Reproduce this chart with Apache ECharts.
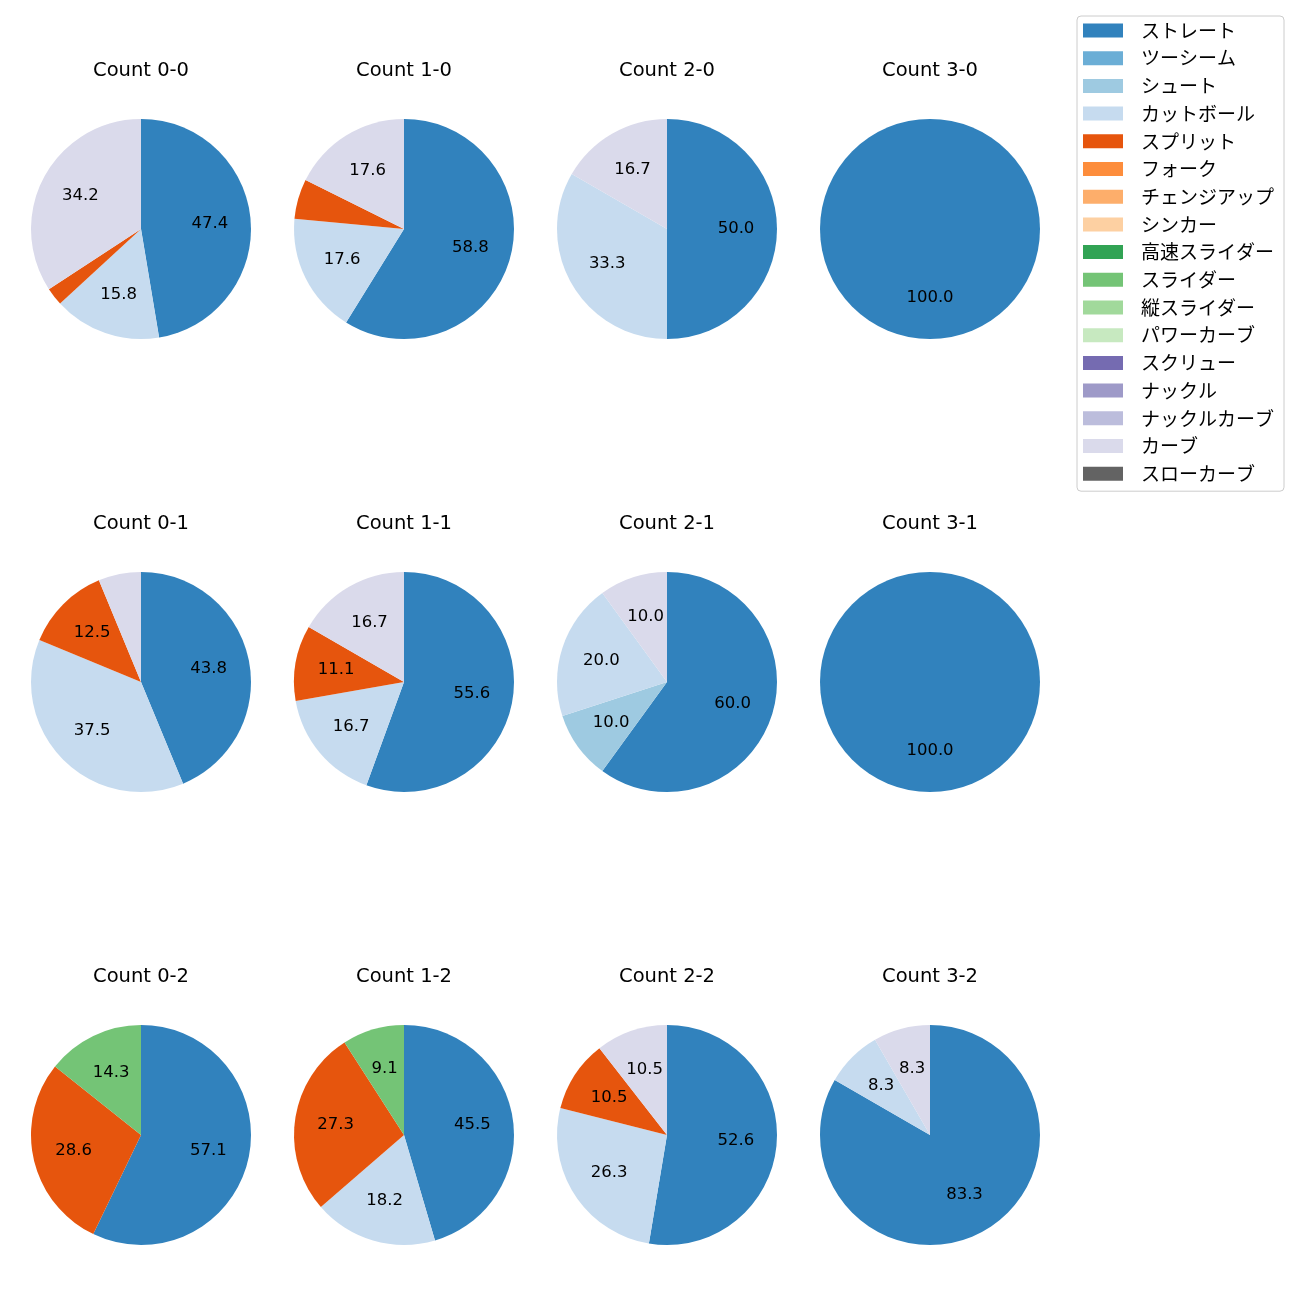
<!DOCTYPE html>
<html>
<head>
<meta charset="utf-8">
<script src="https://cdn.jsdelivr.net/npm/echarts@6/dist/echarts.min.js"></script>
<style>html,body{margin:0;padding:0;background:#fff;}#c{width:1300px;height:1300px;}</style>
</head>
<body>
<div id="c"></div>
<script>
// Pitch types (legend order) and colours
const pitchTypes = ['ストレート','ツーシーム','シュート','カットボール','スプリット','フォーク','チェンジアップ','シンカー','高速スライダー','スライダー','縦スライダー','パワーカーブ','スクリュー','ナックル','ナックルカーブ','カーブ','スローカーブ'];
const pitchColors = ['#3182bd','#6baed6','#9ecae1','#c6dbef','#e6550d','#fd8d3c','#fdae6b','#fdd0a2','#31a354','#74c476','#a1d99b','#c7e9c0','#756bb1','#9e9ac8','#bcbddc','#dadaeb','#636363'];

// Pitch counts per ball-strike count (same order as pitchTypes)
const count00 = [18,0,0,6,1,0,0,0,0,0,0,0,0,0,0,13,0];
const count10 = [10,0,0,3,1,0,0,0,0,0,0,0,0,0,0,3,0];
const count20 = [3,0,0,2,0,0,0,0,0,0,0,0,0,0,0,1,0];
const count30 = [4,0,0,0,0,0,0,0,0,0,0,0,0,0,0,0,0];
const count01 = [7,0,0,6,2,0,0,0,0,0,0,0,0,0,0,1,0];
const count11 = [10,0,0,3,2,0,0,0,0,0,0,0,0,0,0,3,0];
const count21 = [6,0,1,2,0,0,0,0,0,0,0,0,0,0,0,1,0];
const count31 = [3,0,0,0,0,0,0,0,0,0,0,0,0,0,0,0,0];
const count02 = [4,0,0,0,2,0,0,0,0,1,0,0,0,0,0,0,0];
const count12 = [5,0,0,2,3,0,0,0,0,1,0,0,0,0,0,0,0];
const count22 = [10,0,0,5,2,0,0,0,0,0,0,0,0,0,0,2,0];
const count32 = [10,0,0,1,0,0,0,0,0,0,0,0,0,0,0,1,0];

const panelTitles = ['Count 0-0','Count 1-0','Count 2-0','Count 3-0','Count 0-1','Count 1-1','Count 2-1','Count 3-1','Count 0-2','Count 1-2','Count 2-2','Count 3-2'];
const panelData = [count00,count10,count20,count30,count01,count11,count21,count31,count02,count12,count22,count32];

const colX = [141,404,667,930];
const rowY = [229,682,1135];
const R = 110;
const LATIN = '"DejaVu Sans", sans-serif';
const CJK = '"Noto Sans CJK JP", sans-serif';

const series = [];
const graphics = [];
panelData.forEach((vals, i) => {
  const cx = colX[i % 4], cy = rowY[Math.floor(i / 4)];
  const total = vals.reduce((a, b) => a + b, 0);
  const data = pitchTypes.map((n, k) => ({ name: n, value: vals[k], itemStyle: { color: pitchColors[k] } }));
  series.push({
    type: 'pie', center: [cx, cy], radius: [0, R], startAngle: 90, clockwise: true,
    avoidLabelOverlap: false, silent: true, animation: false,
    itemStyle: { borderWidth: 0 },
    label: { show: false }, labelLine: { show: false },
    data: data
  });
  // label carrier: ring whose mid-radius is 0.6R
  series.push({
    type: 'pie', center: [cx, cy], radius: [0.2 * R, R], startAngle: 90, clockwise: true,
    avoidLabelOverlap: false, silent: true, animation: false,
    itemStyle: { color: 'rgba(0,0,0,0)', borderWidth: 0 },
    label: {
      show: true, position: 'inside', color: '#000', fontSize: 16.5, fontFamily: LATIN,
      formatter: p => { const pct = p.value / total * 100; return pct > 7 ? pct.toFixed(1) : ''; }
    },
    labelLine: { show: false },
    data: data.map(d => ({ name: d.name, value: d.value, itemStyle: { color: 'rgba(0,0,0,0)' } }))
  });
  graphics.push({
    type: 'text', x: cx, y: cy - R - 48, silent: true,
    style: { text: panelTitles[i], align: 'center', verticalAlign: 'middle', fontSize: 19.5, fontFamily: LATIN, fill: '#000' }
  });
});

const chart = echarts.init(document.getElementById('c'), null, { renderer: 'canvas' });
chart.setOption({
  backgroundColor: '#fff',
  animation: false,
  graphic: graphics,
  legend: {
    orient: 'vertical', left: 1077, top: 16,
    data: pitchTypes,
    itemWidth: 40, itemHeight: 14, itemGap: 8.7,
    icon: 'rect',
    padding: [5, 10, 8, 6],
    borderColor: '#cccccc', borderWidth: 1, borderRadius: 4,
    textStyle: { fontSize: 19, lineHeight: 19, color: '#000', fontFamily: CJK, padding: [0, 0, 0, 13] },
    selectedMode: false
  },
  series: series
});
</script>
</body>
</html>
